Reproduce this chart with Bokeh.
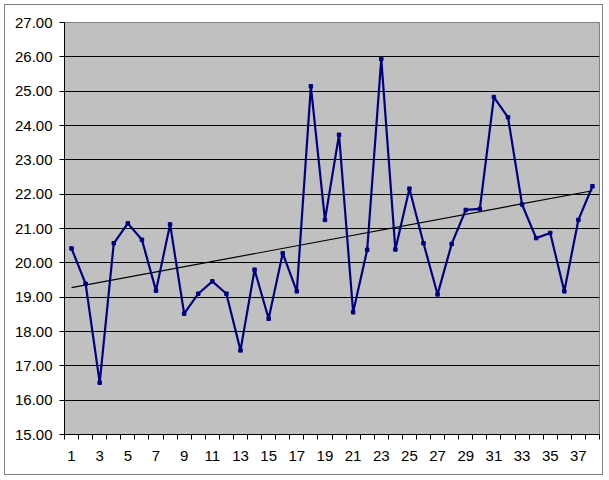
import numpy as np
from bokeh.plotting import figure
from bokeh.models import Range1d, FixedTicker, NumeralTickFormatter
from bokeh.embed import file_html
from bokeh.resources import INLINE

categories = list(range(1, 39))
values = [20.42, 19.39, 16.51, 20.57, 21.15, 20.67, 19.19, 21.12, 18.52, 19.10,
          19.46, 19.10, 17.45, 19.80, 18.37, 20.28, 19.17, 25.14, 21.25, 23.73,
          18.56, 20.38, 25.94, 20.39, 22.16, 20.57, 19.08, 20.55, 21.54, 21.57,
          24.83, 24.24, 21.70, 20.72, 20.87, 19.17, 21.25, 22.23]
x_tick_labels = [str(i) for i in range(1, 39, 2)]
y_ticks = list(range(15, 28))

FONT = "Liberation Sans"

p = figure(width=599, height=471, output_backend="svg", toolbar_location=None,
           x_range=Range1d(0.5, 38.5), y_range=Range1d(15, 27),
           min_border_left=59, min_border_right=5, min_border_top=17, min_border_bottom=42)
p.styles = {"border": "1px solid #808080", "margin-left": "4px", "margin-top": "4px"}

p.background_fill_color = "#C0C0C0"
p.border_fill_color = "white"
p.outline_line_color = "#808080"
p.outline_line_width = 1

# grid
p.xgrid.visible = False
p.ygrid.ticker = FixedTicker(ticks=y_ticks)
p.ygrid.grid_line_color = "black"
p.ygrid.grid_line_width = 1

# y axis
p.yaxis.ticker = FixedTicker(ticks=y_ticks)
p.yaxis.formatter = NumeralTickFormatter(format="0.00")
p.yaxis.axis_line_color = "black"
p.yaxis.major_tick_line_color = "black"
p.yaxis.major_tick_out = 5
p.yaxis.major_tick_in = 0
p.yaxis.minor_tick_line_color = None
p.yaxis.major_label_text_font = FONT
p.yaxis.major_label_text_font_size = "15px"
p.yaxis.major_label_text_color = "black"
p.yaxis.major_label_standoff = 7

# x axis
p.xaxis.ticker = FixedTicker(ticks=[int(t) for t in x_tick_labels],
                             minor_ticks=[c - 0.5 for c in categories] + [38.5])
p.xaxis.major_label_overrides = {int(t): t for t in x_tick_labels}
p.xaxis.axis_line_color = "black"
p.xaxis.major_tick_line_color = None
p.xaxis.minor_tick_line_color = "black"
p.xaxis.minor_tick_out = 5
p.xaxis.minor_tick_in = 0
p.xaxis.major_label_text_font = FONT
p.xaxis.major_label_text_font_size = "15px"
p.xaxis.major_label_text_color = "black"
p.xaxis.major_label_standoff = 10

# trendline (linear fit of the series)
slope, intercept = np.polyfit(categories, values, 1)
tx = [categories[0], categories[-1]]
ty = [slope * t + intercept for t in tx]
p.line(tx, ty, line_color="black", line_width=1.2)

# series
p.line(categories, values, line_color="#000080", line_width=2.2)
p.scatter(categories, values, marker="square", size=3.5, fill_color="#000080", line_color="#000080")

open("out.html", "w").write(file_html(p, INLINE))
